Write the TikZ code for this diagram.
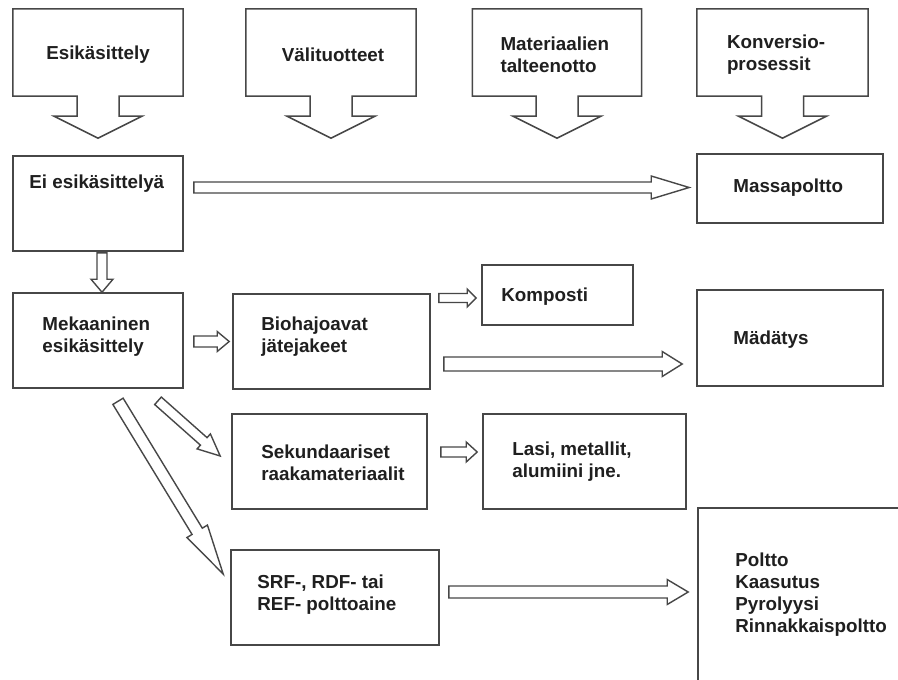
\documentclass[tikz,border=0pt]{standalone}
\usepackage{fontspec}
\setmainfont{Liberation Sans}
\usetikzlibrary{calc}
\tikzset{
  lbl/.style={inner sep=0pt, align=left, text=black!88, font=\bfseries\fontsize{18.8}{22}\selectfont},
  boxn/.style={draw=black!72, line width=1.6pt, rectangle, inner sep=0pt},
  ghost/.style={rectangle, inner sep=0pt},
  callout/.style={draw=black!72, line width=1.5pt, line join=miter},
  barrow/.style={draw=black!72, line width=1.4pt, line join=miter, fill=white}
}
\newcommand\blockarr[5]{%
  \coordinate (bah) at ($(#2)!#5!(#1)$);
  \draw[barrow] ($(#1)!#3!90:(#2)$) -- ($(bah)!#3!90:(#2)$) -- ($(bah)!#4!90:(#2)$) -- (#2)
    -- ($(bah)!#4!-90:(#2)$) -- ($(bah)!#3!-90:(#2)$) -- ($(#1)!#3!-90:(#2)$) -- cycle;
}
\newcommand\calloutbox[1]{%
  \draw[callout] (#1.north west) -- (#1.north east) -- (#1.south east)
    -- ($(#1.south)+(21,0)$) -- ($(#1.south)+(21,20)$) -- ($(#1.south)+(44,20)$)
    -- ($(#1.south)+(0,42)$) -- ($(#1.south)+(-44,20)$) -- ($(#1.south)+(-21,20)$)
    -- ($(#1.south)+(-21,0)$) -- (#1.south west) -- cycle;
}
\begin{document}
\begin{tikzpicture}[x=1pt,y=-1pt]
\useasboundingbox (0,0) rectangle (898,680);
\clip (0,0) rectangle (898,680);
\fill[white] (0,0) rectangle (898,680);

% header callouts
\node[ghost, minimum width=170pt, minimum height=87pt] (h1) at (98,52.5) {};
\node[ghost, minimum width=170pt, minimum height=87pt] (h2) at (331,52.5) {};
\node[ghost, minimum width=169pt, minimum height=87pt] (h3) at (557,52.5) {};
\node[ghost, minimum width=171pt, minimum height=87pt] (h4) at (782.5,52.5) {};
\calloutbox{h1}
\calloutbox{h2}
\calloutbox{h3}
\calloutbox{h4}
\node[lbl] (th1) at ($(h1.center)+(0,2)$) {Esikäsittely};
\node[lbl] (th2) at ($(h2.center)+(2,2)$) {Välituotteet};
\node[lbl, anchor=west] (th3) at ($(h3.west)+(28,2)$) {Materiaalien\\talteenotto};
\node[lbl, anchor=west] (th4) at ($(h4.west)+(30,2)$) {Konversio-\\prosessit};

% boxes
\node[boxn, minimum width=170pt, minimum height=95pt] (ei) at (98,203.5) {};
\node[boxn, minimum width=186pt, minimum height=69pt] (massa) at (790,188.5) {};
\node[boxn, minimum width=170pt, minimum height=95pt] (mek) at (98,340.5) {};
\node[boxn, minimum width=197pt, minimum height=95pt] (bio) at (331.5,341.5) {};
\node[boxn, minimum width=151pt, minimum height=60pt] (komp) at (557.5,295) {};
\node[boxn, minimum width=186pt, minimum height=96pt] (mad) at (790,338) {};
\node[boxn, minimum width=195pt, minimum height=95pt] (sek) at (329.5,461.5) {};
\node[boxn, minimum width=203pt, minimum height=95pt] (lasi) at (584.5,461.5) {};
\node[boxn, minimum width=208pt, minimum height=95pt] (srf) at (335,597.5) {};
\node[boxn, minimum width=220pt, minimum height=185pt] (poltto) at (808,600.5) {};

% texts
\node[lbl, anchor=west] (tei) at ($(ei.north west)+(17,28)$) {Ei esikäsittelyä};
\node[lbl, anchor=west] (tmassa) at ($(massa.west)+(37,-1)$) {Massapoltto};
\node[lbl, anchor=west] (tmek) at ($(mek.west)+(30,-4)$) {Mekaaninen\\esikäsittely};
\node[lbl, anchor=west] (tbio) at ($(bio.west)+(29,-5)$) {Biohajoavat\\jätejakeet};
\node[lbl, anchor=west] (tkomp) at ($(komp.west)+(20,2)$) {Komposti};
\node[lbl, anchor=west] (tmad) at ($(mad.west)+(37,2)$) {Mädätys};
\node[lbl, anchor=west] (tsek) at ($(sek.west)+(30,1.5)$) {Sekundaariset\\raakamateriaalit};
\node[lbl, anchor=west] (tlasi) at ($(lasi.west)+(30,0)$) {Lasi, metallit,\\alumiini jne.};
\node[lbl, anchor=west] (tsrf) at ($(srf.west)+(27,-3)$) {SRF-, RDF- tai\\REF- polttoaine};
\node[lbl, anchor=west] (tpoltto) at ($(poltto.west)+(38,-6)$) {Poltto\\Kaasutus\\Pyrolyysi\\Rinnakkaispoltto};

% connector end points
\coordinate (s1) at ($(ei.east |- massa.west)+(10,-1)$);
\coordinate (e1) at ($(massa.west)+(-7,-1)$);
\coordinate (s2) at ($(ei.south)+(4,1)$);
\coordinate (e2) at ($(mek.north)+(4,0)$);
\coordinate (s3) at ($(mek.east)+(10,1)$);
\coordinate (e3) at ($(bio.west)+(-3,0)$);
\coordinate (s4) at ($(bio.east |- komp.west)+(8,3)$);
\coordinate (e4) at ($(komp.west)+(-5,3)$);
\coordinate (s5) at ($(bio.east)+(13,22.5)$);
\coordinate (e5) at ($(mad.west)+(-14,26)$);
\coordinate (s6) at ($(sek.east)+(13,-9.5)$);
\coordinate (e6) at ($(lasi.west)+(-5,-9.5)$);
\coordinate (s7) at ($(srf.east)+(9,-5.5)$);
\coordinate (e7) at ($(poltto.west)+(-9,-8.5)$);
\coordinate (s8) at ($(mek.south)+(60,12)$);
\coordinate (e8) at ($(sek.west)+(-11,-5.5)$);
\coordinate (s9) at ($(mek.south)+(20,12.5)$);
\coordinate (e9) at ($(srf.west)+(-7,-23.5)$);

\blockarr{s1}{e1}{5.5pt}{11.5pt}{38pt}
\blockarr{s2}{e2}{5pt}{11pt}{13pt}
\blockarr{s3}{e3}{5.5pt}{10pt}{12pt}
\blockarr{s4}{e4}{4.5pt}{9pt}{9pt}
\blockarr{s5}{e5}{7pt}{12.5pt}{20pt}
\blockarr{s6}{e6}{5pt}{10pt}{11pt}
\blockarr{s7}{e7}{6pt}{12.5pt}{21pt}
\blockarr{s8}{e8}{5pt}{10pt}{22pt}
\blockarr{s9}{e9}{6pt}{12pt}{50pt}
\end{tikzpicture}
\end{document}
